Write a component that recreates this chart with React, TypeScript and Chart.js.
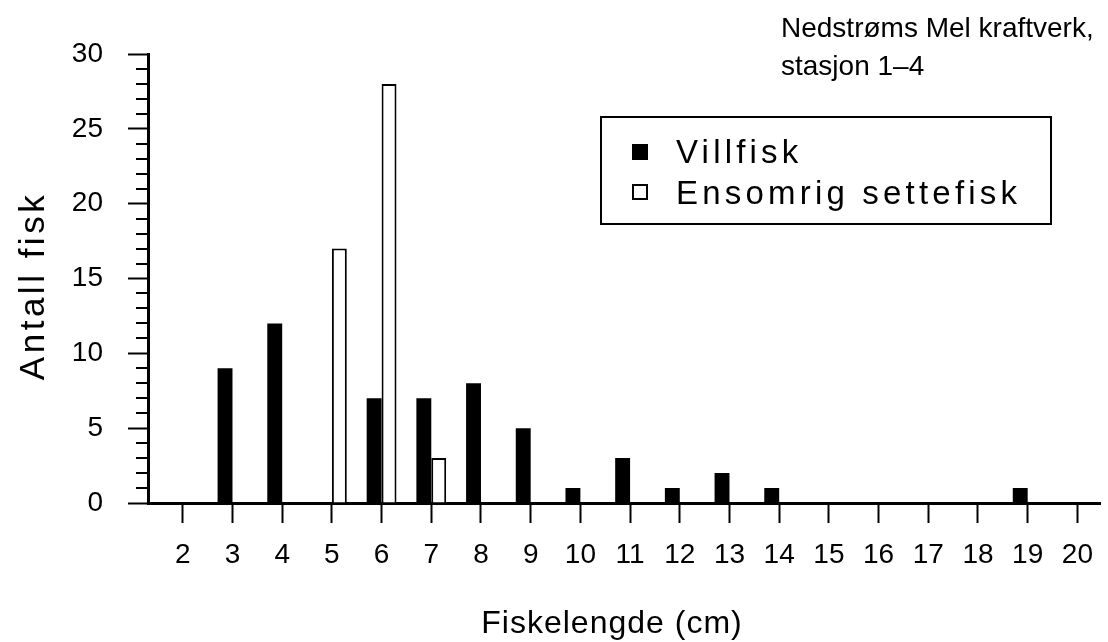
import React, { useEffect, useRef } from 'react';
import { Chart, registerables } from 'chart.js';

Chart.register(...registerables);

// ---- data ----
const lengths = [2, 3, 4, 5, 6, 7, 8, 9, 10, 11, 12, 13, 14, 15, 16, 17, 18, 19, 20];
const villfisk = [0, 9, 12, 0, 7, 7, 8, 5, 1, 3, 1, 2, 1, 0, 0, 0, 0, 1, 0];
const settefisk = [0, 0, 0, 17, 28, 3, 0, 0, 0, 0, 0, 0, 0, 0, 0, 0, 0, 0, 0];
const yMajorTicks = [0, 5, 10, 15, 20, 25, 30];
const seriesNames = ['Villfisk', 'Ensomrig settefisk'];
const titleLines = ['Nedstrøms Mel kraftverk,', 'stasjon 1–4'];
const xTitle = 'Fiskelengde (cm)';
const yTitle = 'Antall fisk';

const FONT = "'Liberation Sans', Arial, Helvetica, sans-serif";
const W = 1108;
const H = 642;

const annotPlugin = {
  id: 'annot',
  afterDraw(chart: any) {
    const ctx = chart.ctx as CanvasRenderingContext2D;
    const ys = chart.scales.y;
    const left = chart.chartArea.left;
    ctx.save();
    // minor ticks on y axis
    ctx.strokeStyle = '#000';
    ctx.lineWidth = 2;
    ctx.beginPath();
    ys.ticks.forEach((t: any) => {
      if (!yMajorTicks.includes(t.value)) {
        const py = Math.round(ys.getPixelForValue(t.value));
        ctx.moveTo(left - 12, py);
        ctx.lineTo(left, py);
      }
    });
    ctx.stroke();

    ctx.fillStyle = '#000';
    // y title
    ctx.save();
    (ctx as any).letterSpacing = '3.5px';
    ctx.font = `35px ${FONT}`;
    ctx.translate(44, 286);
    ctx.rotate(-Math.PI / 2);
    ctx.textAlign = 'center';
    ctx.textBaseline = 'alphabetic';
    ctx.fillText(yTitle, 0, 0);
    ctx.restore();

    // x title
    ctx.save();
    (ctx as any).letterSpacing = '1px';
    ctx.font = `32px ${FONT}`;
    ctx.textAlign = 'center';
    ctx.textBaseline = 'alphabetic';
    ctx.fillText(xTitle, 612, 633);
    ctx.restore();

    // title
    ctx.save();
    (ctx as any).letterSpacing = '0px';
    ctx.font = `28px ${FONT}`;
    ctx.textAlign = 'left';
    ctx.textBaseline = 'alphabetic';
    ctx.fillText(titleLines[0], 781, 37);
    ctx.fillText(titleLines[1], 781, 75);
    ctx.restore();

    // legend
    ctx.save();
    ctx.lineWidth = 2;
    ctx.strokeStyle = '#000';
    ctx.strokeRect(601, 117, 450, 107);
    ctx.fillStyle = '#000';
    ctx.fillRect(632, 144, 16, 16);
    ctx.strokeRect(633, 185, 14, 14);
    (ctx as any).letterSpacing = '4.2px';
    ctx.font = `33px ${FONT}`;
    ctx.textAlign = 'left';
    ctx.textBaseline = 'alphabetic';
    ctx.fillText(seriesNames[0], 676, 163);
    ctx.fillText(seriesNames[1], 676, 204);
    ctx.restore();

    ctx.restore();
  },
};

export default function App() {
  const ref = useRef<HTMLCanvasElement | null>(null);
  useEffect(() => {
    if (!ref.current) return;
    const chart = new Chart(ref.current, {
      type: 'bar',
      data: {
        datasets: [
          {
            label: seriesNames[0],
            data: lengths.map((x, i) => ({ x, y: villfisk[i] })),
            backgroundColor: '#000',
            borderColor: '#000',
            borderWidth: 0,
            categoryPercentage: 0.6,
            barPercentage: 1,
          },
          {
            label: seriesNames[1],
            data: lengths.map((x, i) => ({ x, y: settefisk[i] })),
            backgroundColor: '#fff',
            borderColor: '#000',
            borderWidth: 2,
            categoryPercentage: 0.6,
            barPercentage: 1,
          },
        ],
      } as any,
      options: {
        animation: false,
        responsive: false,
        devicePixelRatio: 1,
        layout: { padding: { top: 54, right: 2, left: 0, bottom: 0 } },
        plugins: {
          legend: { display: false },
          title: { display: false },
          tooltip: { enabled: false },
        },
        scales: {
          x: {
            type: 'linear',
            min: 1.3,
            max: 20.46,
            offset: false,
            z: 1,
            afterBuildTicks: (s: any) => {
              s.ticks = lengths.map((v) => ({ value: v }));
            },
            afterFit: (s: any) => {
              s.height = H - 503;
            },
            ticks: {
              autoSkip: false,
              maxRotation: 0,
              color: '#000',
              padding: 15,
              font: { family: FONT, size: 28 },
              callback: (v: any) => String(v),
            },
            grid: {
              offset: false,
              drawOnChartArea: false,
              drawTicks: true,
              tickLength: 20,
              tickWidth: 2,
              tickColor: '#000',
            },
            border: { display: true, color: '#000', width: 3 },
          },
          y: {
            type: 'linear',
            min: 0,
            max: 30,
            z: 1,
            afterFit: (s: any) => {
              s.width = 148;
            },
            ticks: {
              stepSize: 1,
              autoSkip: false,
              color: '#000',
              padding: 25,
              font: { family: FONT, size: 28 },
              callback: (v: any) => (yMajorTicks.includes(v) ? String(v) : ''),
            },
            grid: {
              drawOnChartArea: false,
              drawTicks: true,
              tickLength: 20,
              tickWidth: 2,
              tickColor: (c: any) => (yMajorTicks.includes(c.tick?.value) ? '#000' : 'rgba(0,0,0,0)'),
            },
            border: { display: true, color: '#000', width: 3 },
          },
        },
      } as any,
      plugins: [annotPlugin],
    });
    return () => chart.destroy();
  }, []);

  return (
    <div style={{ position: 'absolute', left: 0, top: 0, width: W, height: H, background: '#fff' }}>
      <canvas ref={ref} width={W} height={H} style={{ display: 'block' }} />
    </div>
  );
}
